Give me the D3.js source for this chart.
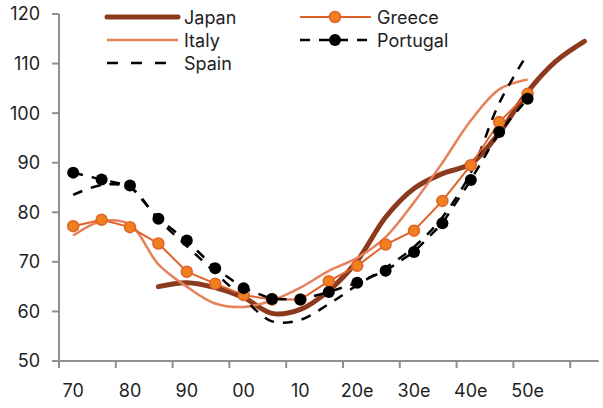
<!DOCTYPE html>
<html>
<head>
<meta charset="utf-8">
<script src="https://cdn.jsdelivr.net/npm/d3@7"></script>
<style>
  html, body { margin: 0; padding: 0; background: #fff; }
  svg { display: block; font-family: Inter, "Noto Sans", sans-serif; }
</style>
</head>
<body>
<svg id="chart" width="603" height="408"></svg>
<script>
// ---- data ----
const years5 = [1970,1975,1980,1985,1990,1995,2000,2005,2010,2015,2020,2025,2030,2035,2040,2045,2050];
const japanYears = [1985,1990,1995,2000,2005,2010,2015,2020,2025,2030,2035,2040,2045,2050,2055,2060];
const japan   = [65.0,65.8,64.8,62.8,59.6,60.4,64.2,70.2,79.0,84.8,87.8,89.8,96.0,104.3,110.5,114.5];
const italy   = [75.3,78.2,77.5,69.5,65.0,61.6,60.9,62.2,64.8,68.2,70.8,75.0,82.0,90.0,98.5,104.8,106.8];
const spain   = [83.5,85.5,85.0,78.5,73.2,67.8,62.6,58.0,58.3,61.5,65.3,68.8,73.0,79.0,88.0,102.0,112.0];
const greece  = [77.2,78.5,77.0,73.7,68.0,65.6,63.3,62.4,62.4,66.1,69.2,73.5,76.3,82.3,89.5,98.2,103.9];
const portugal= [88.0,86.6,85.4,78.7,74.3,68.7,64.7,62.5,62.4,63.9,65.8,68.2,72.0,77.8,86.5,96.2,102.9];

const yTicks = [50,60,70,80,90,100,110,120];
const xLabelYears = [1970,1980,1990,2000,2010,2020,2030,2040,2050];
const xLabels = ["70","80","90","00","10","20e","30e","40e","50e"];
const xTickYears = [1967.5,1977.5,1987.5,1997.5,2007.5,2017.5,2027.5,2037.5,2047.5,2057.5];

// ---- layout ----
const svg = d3.select("#chart");
const x = d3.scaleLinear().domain([1967.5, 2062.5]).range([59, 598.6]);
const y = d3.scaleLinear().domain([50, 120]).range([361, 14]);
const axisColor = "#8f8f8f";
const textColor = "#1e1e1e";

// y axis
svg.append("line").attr("x1", 59).attr("x2", 59).attr("y1", y(120)).attr("y2", y(50))
  .attr("stroke", axisColor).attr("stroke-width", 2);
const yg = svg.append("g");
yTicks.forEach(v => {
  yg.append("line").attr("x1", 52).attr("x2", 59).attr("y1", y(v)).attr("y2", y(v))
    .attr("stroke", axisColor).attr("stroke-width", 2);
  yg.append("text").attr("x", 40).attr("y", y(v)).attr("dy", "0.36em")
    .attr("text-anchor", "end").attr("font-size", 18).attr("fill", textColor).text(v);
});

// x axis
svg.append("line").attr("x1", 58).attr("x2", x.range()[1]).attr("y1", y(50)).attr("y2", y(50))
  .attr("stroke", axisColor).attr("stroke-width", 2);
xTickYears.forEach(t => {
  svg.append("line").attr("x1", x(t)).attr("x2", x(t)).attr("y1", y(50)).attr("y2", y(50) + 7)
    .attr("stroke", axisColor).attr("stroke-width", 2);
});
xLabelYears.forEach((t, i) => {
  svg.append("text").attr("x", x(t)).attr("y", 397).attr("text-anchor", "middle")
    .attr("font-size", 18).attr("fill", textColor).text(xLabels[i]);
});

// series
const smooth = d3.line().x(d => x(d[0])).y(d => y(d[1])).curve(d3.curveCatmullRom.alpha(0.5));
const straight = d3.line().x(d => x(d[0])).y(d => y(d[1])).curve(d3.curveLinear);
const zip = (xs, vs) => xs.map((t, i) => [t, vs[i]]);

const cJapan = "#8c3a1d", cItaly = "#e5825c", cGreece = "#e0622b", cGreeceFill = "#f0801e";

svg.append("path").attr("d", smooth(zip(japanYears, japan))).attr("fill", "none")
  .attr("stroke", cJapan).attr("stroke-width", 5).attr("stroke-linecap", "round");
svg.append("path").attr("d", smooth(zip(years5, italy))).attr("fill", "none")
  .attr("stroke", cItaly).attr("stroke-width", 2.5);
svg.append("path").attr("d", smooth(zip(years5, spain))).attr("fill", "none")
  .attr("stroke", "#000").attr("stroke-width", 2.5).attr("stroke-dasharray", "10,9");
svg.append("path").attr("d", straight(zip(years5, greece))).attr("fill", "none")
  .attr("stroke", cGreece).attr("stroke-width", 2);
svg.append("path").attr("d", straight(zip(years5, portugal))).attr("fill", "none")
  .attr("stroke", "#000").attr("stroke-width", 2.5).attr("stroke-dasharray", "10,9");

svg.append("g").selectAll("circle").data(zip(years5, greece)).join("circle")
  .attr("cx", d => x(d[0])).attr("cy", d => y(d[1])).attr("r", 5.5)
  .attr("fill", cGreeceFill).attr("stroke", cGreece).attr("stroke-width", 1.5);
svg.append("g").selectAll("circle").data(zip(years5, portugal)).join("circle")
  .attr("cx", d => x(d[0])).attr("cy", d => y(d[1])).attr("r", 6)
  .attr("fill", "#000");

// legend
const legend = [
  {name: "Japan", col: 0, row: 0, stroke: cJapan, width: 5, dash: null, marker: null},
  {name: "Italy", col: 0, row: 1, stroke: cItaly, width: 2.5, dash: null, marker: null},
  {name: "Spain", col: 0, row: 2, stroke: "#000", width: 2.5, dash: "11,13", marker: null},
  {name: "Greece", col: 1, row: 0, stroke: cGreece, width: 2, dash: null, marker: "greece"},
  {name: "Portugal", col: 1, row: 1, stroke: "#000", width: 2.5, dash: "10,9", marker: "portugal"}
];
const colX = [107, 300], rowY = [17, 40, 63];
legend.forEach(l => {
  const lx = colX[l.col], ly = rowY[l.row];
  const ln = svg.append("line").attr("x1", lx).attr("x2", lx + 71).attr("y1", ly).attr("y2", ly)
    .attr("stroke", l.stroke).attr("stroke-width", l.width)
    .attr("stroke-linecap", l.name === "Japan" ? "round" : "butt");
  if (l.dash) ln.attr("stroke-dasharray", l.dash);
  if (l.marker === "greece") {
    svg.append("circle").attr("cx", lx + 35).attr("cy", ly).attr("r", 5.5)
      .attr("fill", cGreeceFill).attr("stroke", cGreece).attr("stroke-width", 1.5);
  } else if (l.marker === "portugal") {
    svg.append("circle").attr("cx", lx + 35).attr("cy", ly).attr("r", 6).attr("fill", "#000");
  }
  svg.append("text").attr("x", lx + 77).attr("y", ly + 1).attr("dy", "0.36em")
    .attr("font-size", 18).attr("fill", textColor).text(l.name);
});
</script>
</body>
</html>
